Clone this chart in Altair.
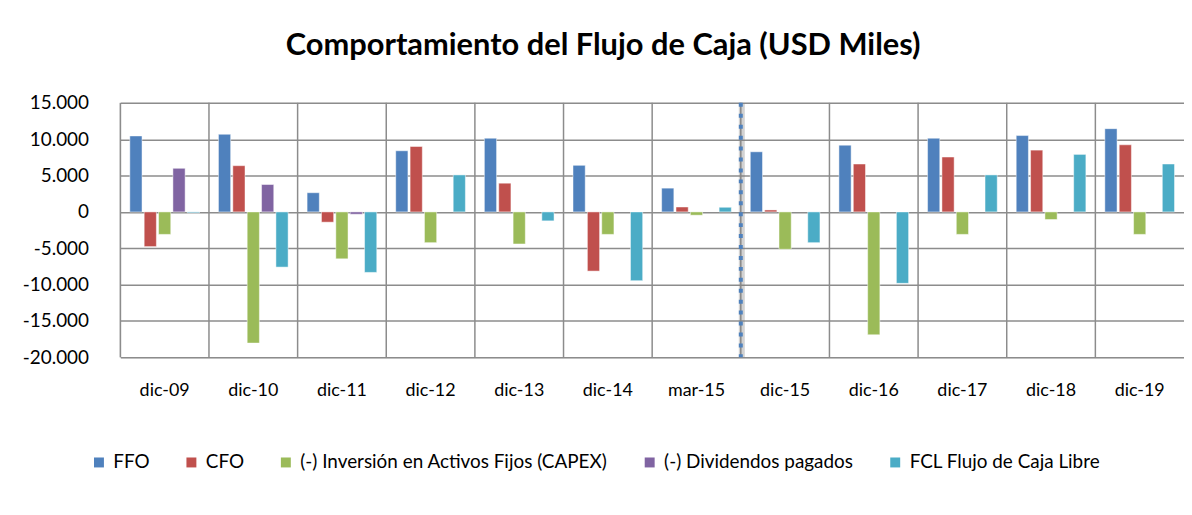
import altair as alt
import pandas as pd

categories = ["dic-09", "dic-10", "dic-11", "dic-12", "dic-13", "dic-14",
              "mar-15", "dic-15", "dic-16", "dic-17", "dic-18", "dic-19"]
series = ["FFO", "CFO", "(-) Inversión en Activos Fijos (CAPEX)",
          "(-) Dividendos pagados", "FCL Flujo de Caja Libre"]
colors = ["#4F81BD", "#C0504D", "#9BBB59", "#8064A2", "#4BACC6"]

ffo = [10450, 10680, 2640, 8410, 10140, 6410, 3270, 8270, 9180, 10140, 10500, 11450]
cfo = [-4770, 6360, -1410, 9000, 3950, -8140, 680, 270, 6590, 7550, 8500, 9230]
capex = [-3090, -18040, -6450, -4230, -4410, -3090, -450, -5140, -16900, -3090, -1045, -3090]
dividendos = [6000, 3770, -320, None, None, None, None, None, None, None, None, None]
fcl = [-120, -7590, -8320, 5090, -1230, -9450, 640, -4230, -9820, 5090, 7910, 6590]

values = [ffo, cfo, capex, dividendos, fcl]
rows = []
for s, vals in zip(series, values):
    for c, v in zip(categories, vals):
        if v is not None:
            rows.append({"cat": c, "serie": s, "valor": v})
df = pd.DataFrame(rows)
cats_df = pd.DataFrame({"cat": categories})
corte_df = pd.DataFrame({"cat": ["dic-15"]})

FONT = "Lato"
GRID = "#8C8C8C"

xscale = alt.Scale(domain=categories, paddingInner=0, paddingOuter=0)

label_expr = "(datum.value < 0 ? '-' : '') + replace(format(abs(datum.value), ','), ',', '.')"

bars = alt.Chart(df).mark_bar(stroke="white", strokeOpacity=0.6, strokeWidth=0.8).encode(
    x=alt.X("cat:N", scale=xscale, title=None,
            axis=alt.Axis(labelAngle=0, labelAlign="center", bandPosition=0.5,
                          domain=False, ticks=False, grid=False,
                          labelFont=FONT, labelFontSize=18, labelColor="#000000",
                          labelPadding=24)),
    xOffset=alt.XOffset("serie:N", sort=series,
                        scale=alt.Scale(domain=series, paddingInner=0.15, paddingOuter=0.66)),
    y=alt.Y("valor:Q", title=None,
            scale=alt.Scale(domain=[-20000, 15000], nice=False, zero=True),
            axis=alt.Axis(values=[-20000, -15000, -10000, -5000, 0, 5000, 10000, 15000],
                          labelExpr=label_expr, domain=False, ticks=False, tickSize=0,
                          grid=True, gridColor=GRID, gridWidth=1.5,
                          labelFont=FONT, labelFontSize=19, labelColor="#000000",
                          labelPadding=32)),
    color=alt.Color("serie:N", sort=series,
                    scale=alt.Scale(domain=series, range=colors),
                    legend=alt.Legend(title=None, orient="none", direction="horizontal",
                                      legendX=-31, legendY=352, columns=5,
                                      symbolType="square", symbolSize=100,
                                      symbolStrokeWidth=0, labelFont=FONT,
                                      labelFontSize=19, labelColor="#000000",
                                      labelLimit=0,
                                      labelOffset=5, columnPadding=32, padding=0)),
)

vgrid = alt.Chart(cats_df).mark_rule(color=GRID, strokeWidth=1.5).encode(
    x=alt.X("cat:N", scale=xscale, bandPosition=0)
)

shadow = alt.Chart(corte_df).mark_rule(color="#7F7F7F", strokeWidth=6, opacity=0.35,
                                       xOffset=1, yOffset=1).encode(
    x=alt.X("cat:N", scale=xscale, bandPosition=0)
)
corte = alt.Chart(corte_df).mark_rule(color="#4F81BD", strokeWidth=4,
                                      strokeDash=[4, 7]).encode(
    x=alt.X("cat:N", scale=xscale, bandPosition=0)
)

chart = alt.layer(bars, vgrid, shadow, corte).properties(
    width=1070, height=256,
    padding={"left": 14, "top": 21, "right": 0, "bottom": 10},
    title=alt.TitleParams("Comportamiento del Flujo de Caja (USD Miles)",
                          font=FONT, fontSize=31, fontWeight="bold",
                          color="#000000", anchor="middle", frame="bounds",
                          offset=32),
).configure_view(strokeWidth=0).configure(background="white")

chart.save("out.html", embed_options={"renderer": "svg", "actions": False})
